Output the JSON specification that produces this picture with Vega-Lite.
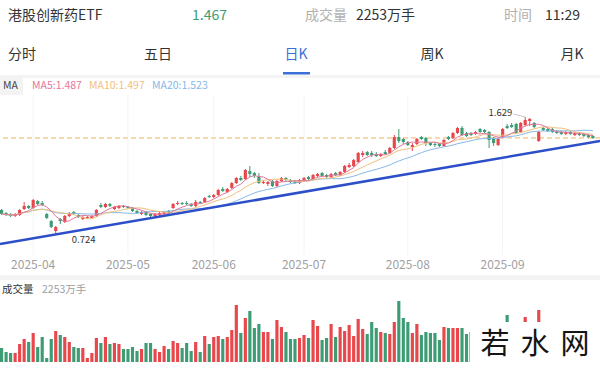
{
"$schema": "https://vega.github.io/schema/vega-lite/v6.json",
"width": 600, "height": 368,
"autosize": "none",
"padding": 0,
"background": "#ffffff",
"config": {"view": {"stroke": null}, "font": "Noto Sans CJK SC"},
"datasets": {"k": [
{"d":"2025-03-21","o":0.910,"h":0.917,"l":0.871,"c":0.879,"v":2100},
{"d":"2025-03-24","o":0.886,"h":0.894,"l":0.863,"c":0.871,"v":1500},
{"d":"2025-03-25","o":0.879,"h":0.886,"l":0.855,"c":0.863,"v":1350},
{"d":"2025-03-26","o":0.863,"h":0.886,"l":0.855,"c":0.879,"v":1350},
{"d":"2025-03-27","o":0.871,"h":0.917,"l":0.863,"c":0.910,"v":2700},
{"d":"2025-03-28","o":0.917,"h":0.972,"l":0.910,"c":0.941,"v":3450},
{"d":"2025-03-31","o":0.941,"h":0.948,"l":0.917,"c":0.925,"v":3000},
{"d":"2025-04-01","o":0.925,"h":0.995,"l":0.917,"c":0.987,"v":4350},
{"d":"2025-04-02","o":0.979,"h":0.987,"l":0.948,"c":0.956,"v":2250},
{"d":"2025-04-03","o":0.964,"h":0.979,"l":0.941,"c":0.948,"v":3750},
{"d":"2025-04-07","o":0.879,"h":0.886,"l":0.840,"c":0.848,"v":600},
{"d":"2025-04-08","o":0.824,"h":0.832,"l":0.770,"c":0.778,"v":3450},
{"d":"2025-04-09","o":0.747,"h":0.786,"l":0.724,"c":0.778,"v":4650},
{"d":"2025-04-10","o":0.840,"h":0.848,"l":0.801,"c":0.824,"v":4050},
{"d":"2025-04-11","o":0.817,"h":0.871,"l":0.809,"c":0.863,"v":3750},
{"d":"2025-04-14","o":0.863,"h":0.894,"l":0.855,"c":0.886,"v":3000},
{"d":"2025-04-15","o":0.894,"h":0.902,"l":0.871,"c":0.879,"v":2250},
{"d":"2025-04-16","o":0.871,"h":0.879,"l":0.848,"c":0.855,"v":2100},
{"d":"2025-04-17","o":0.840,"h":0.863,"l":0.832,"c":0.855,"v":2100},
{"d":"2025-04-18","o":0.848,"h":0.863,"l":0.840,"c":0.855,"v":600},
{"d":"2025-04-21","o":0.848,"h":0.871,"l":0.840,"c":0.863,"v":1350},
{"d":"2025-04-22","o":0.863,"h":0.917,"l":0.855,"c":0.910,"v":3600},
{"d":"2025-04-23","o":0.948,"h":0.964,"l":0.925,"c":0.933,"v":2850},
{"d":"2025-04-24","o":0.933,"h":0.964,"l":0.925,"c":0.956,"v":3750},
{"d":"2025-04-25","o":0.956,"h":0.964,"l":0.933,"c":0.941,"v":2700},
{"d":"2025-04-28","o":0.917,"h":0.941,"l":0.910,"c":0.933,"v":2850},
{"d":"2025-04-29","o":0.925,"h":0.948,"l":0.917,"c":0.941,"v":2700},
{"d":"2025-04-30","o":0.941,"h":0.948,"l":0.925,"c":0.933,"v":1950},
{"d":"2025-05-06","o":0.933,"h":0.941,"l":0.917,"c":0.925,"v":1950},
{"d":"2025-05-07","o":0.925,"h":0.933,"l":0.894,"c":0.902,"v":2250},
{"d":"2025-05-08","o":0.902,"h":0.910,"l":0.879,"c":0.886,"v":1650},
{"d":"2025-05-09","o":0.879,"h":0.902,"l":0.871,"c":0.894,"v":1950},
{"d":"2025-05-12","o":0.894,"h":0.902,"l":0.863,"c":0.871,"v":2850},
{"d":"2025-05-13","o":0.879,"h":0.886,"l":0.855,"c":0.863,"v":2850},
{"d":"2025-05-14","o":0.863,"h":0.886,"l":0.855,"c":0.879,"v":1950},
{"d":"2025-05-15","o":0.871,"h":0.894,"l":0.863,"c":0.886,"v":1500},
{"d":"2025-05-16","o":0.879,"h":0.902,"l":0.871,"c":0.894,"v":2400},
{"d":"2025-05-19","o":0.902,"h":0.910,"l":0.879,"c":0.886,"v":1950},
{"d":"2025-05-20","o":0.925,"h":0.964,"l":0.917,"c":0.956,"v":3150},
{"d":"2025-05-21","o":0.956,"h":0.979,"l":0.948,"c":0.964,"v":2850},
{"d":"2025-05-22","o":0.964,"h":0.972,"l":0.948,"c":0.956,"v":2100},
{"d":"2025-05-23","o":0.964,"h":0.979,"l":0.948,"c":0.956,"v":2850},
{"d":"2025-05-26","o":0.956,"h":0.964,"l":0.933,"c":0.941,"v":1650},
{"d":"2025-05-27","o":0.941,"h":0.987,"l":0.933,"c":0.972,"v":3000},
{"d":"2025-05-28","o":0.972,"h":0.979,"l":0.956,"c":0.964,"v":1500},
{"d":"2025-05-29","o":0.972,"h":1.010,"l":0.964,"c":1.002,"v":3900},
{"d":"2025-05-30","o":1.018,"h":1.026,"l":1.002,"c":1.010,"v":2700},
{"d":"2025-06-03","o":1.010,"h":1.033,"l":1.002,"c":1.026,"v":3750},
{"d":"2025-06-04","o":1.026,"h":1.072,"l":1.018,"c":1.064,"v":3900},
{"d":"2025-06-05","o":1.072,"h":1.088,"l":1.049,"c":1.057,"v":3450},
{"d":"2025-06-06","o":1.049,"h":1.080,"l":1.041,"c":1.072,"v":3750},
{"d":"2025-06-09","o":1.080,"h":1.126,"l":1.072,"c":1.118,"v":4800},
{"d":"2025-06-10","o":1.118,"h":1.165,"l":1.111,"c":1.157,"v":8550},
{"d":"2025-06-11","o":1.157,"h":1.173,"l":1.134,"c":1.142,"v":4350},
{"d":"2025-06-12","o":1.149,"h":1.227,"l":1.142,"c":1.219,"v":6600},
{"d":"2025-06-13","o":1.211,"h":1.250,"l":1.165,"c":1.188,"v":7650},
{"d":"2025-06-16","o":1.196,"h":1.204,"l":1.157,"c":1.173,"v":5100},
{"d":"2025-06-17","o":1.173,"h":1.196,"l":1.111,"c":1.118,"v":5700},
{"d":"2025-06-18","o":1.118,"h":1.142,"l":1.111,"c":1.126,"v":4500},
{"d":"2025-06-19","o":1.111,"h":1.134,"l":1.095,"c":1.126,"v":4500},
{"d":"2025-06-20","o":1.134,"h":1.142,"l":1.088,"c":1.095,"v":3450},
{"d":"2025-06-23","o":1.095,"h":1.142,"l":1.088,"c":1.134,"v":6300},
{"d":"2025-06-24","o":1.134,"h":1.165,"l":1.126,"c":1.157,"v":5250},
{"d":"2025-06-25","o":1.157,"h":1.165,"l":1.134,"c":1.142,"v":4500},
{"d":"2025-06-26","o":1.142,"h":1.149,"l":1.118,"c":1.126,"v":3450},
{"d":"2025-06-27","o":1.134,"h":1.142,"l":1.111,"c":1.118,"v":3450},
{"d":"2025-06-30","o":1.118,"h":1.149,"l":1.111,"c":1.142,"v":3600},
{"d":"2025-07-01","o":1.142,"h":1.165,"l":1.134,"c":1.157,"v":4050},
{"d":"2025-07-02","o":1.165,"h":1.173,"l":1.142,"c":1.149,"v":3600},
{"d":"2025-07-03","o":1.149,"h":1.188,"l":1.142,"c":1.180,"v":6300},
{"d":"2025-07-04","o":1.173,"h":1.196,"l":1.165,"c":1.188,"v":5400},
{"d":"2025-07-07","o":1.196,"h":1.204,"l":1.165,"c":1.173,"v":3300},
{"d":"2025-07-08","o":1.180,"h":1.188,"l":1.157,"c":1.165,"v":3600},
{"d":"2025-07-09","o":1.165,"h":1.196,"l":1.157,"c":1.188,"v":5700},
{"d":"2025-07-10","o":1.196,"h":1.204,"l":1.173,"c":1.180,"v":3750},
{"d":"2025-07-11","o":1.180,"h":1.211,"l":1.173,"c":1.204,"v":5250},
{"d":"2025-07-14","o":1.204,"h":1.258,"l":1.196,"c":1.250,"v":4650},
{"d":"2025-07-15","o":1.242,"h":1.273,"l":1.234,"c":1.258,"v":5550},
{"d":"2025-07-16","o":1.250,"h":1.304,"l":1.242,"c":1.296,"v":3900},
{"d":"2025-07-17","o":1.281,"h":1.358,"l":1.273,"c":1.351,"v":6450},
{"d":"2025-07-18","o":1.335,"h":1.366,"l":1.320,"c":1.351,"v":4950},
{"d":"2025-07-21","o":1.358,"h":1.366,"l":1.327,"c":1.335,"v":4200},
{"d":"2025-07-22","o":1.351,"h":1.366,"l":1.320,"c":1.335,"v":6000},
{"d":"2025-07-23","o":1.343,"h":1.358,"l":1.320,"c":1.327,"v":5100},
{"d":"2025-07-24","o":1.327,"h":1.351,"l":1.320,"c":1.343,"v":4500},
{"d":"2025-07-25","o":1.358,"h":1.374,"l":1.335,"c":1.343,"v":4350},
{"d":"2025-07-28","o":1.351,"h":1.397,"l":1.343,"c":1.389,"v":4200},
{"d":"2025-07-29","o":1.389,"h":1.490,"l":1.381,"c":1.474,"v":6000},
{"d":"2025-07-30","o":1.474,"h":1.536,"l":1.428,"c":1.443,"v":9150},
{"d":"2025-07-31","o":1.459,"h":1.467,"l":1.420,"c":1.436,"v":6600},
{"d":"2025-08-01","o":1.436,"h":1.443,"l":1.405,"c":1.412,"v":6000},
{"d":"2025-08-04","o":1.397,"h":1.428,"l":1.366,"c":1.412,"v":4350},
{"d":"2025-08-05","o":1.420,"h":1.467,"l":1.412,"c":1.459,"v":5700},
{"d":"2025-08-06","o":1.474,"h":1.482,"l":1.451,"c":1.459,"v":4050},
{"d":"2025-08-07","o":1.467,"h":1.474,"l":1.405,"c":1.428,"v":4500},
{"d":"2025-08-08","o":1.428,"h":1.436,"l":1.405,"c":1.412,"v":4350},
{"d":"2025-08-11","o":1.420,"h":1.428,"l":1.397,"c":1.412,"v":4350},
{"d":"2025-08-12","o":1.420,"h":1.428,"l":1.397,"c":1.405,"v":3300},
{"d":"2025-08-13","o":1.405,"h":1.459,"l":1.397,"c":1.451,"v":5250},
{"d":"2025-08-14","o":1.474,"h":1.482,"l":1.451,"c":1.459,"v":5100},
{"d":"2025-08-15","o":1.467,"h":1.513,"l":1.459,"c":1.505,"v":5100},
{"d":"2025-08-18","o":1.505,"h":1.552,"l":1.498,"c":1.544,"v":5100},
{"d":"2025-08-19","o":1.544,"h":1.559,"l":1.482,"c":1.490,"v":5100},
{"d":"2025-08-20","o":1.505,"h":1.513,"l":1.474,"c":1.482,"v":4200},
{"d":"2025-08-21","o":1.505,"h":1.513,"l":1.482,"c":1.490,"v":4500},
{"d":"2025-08-22","o":1.498,"h":1.521,"l":1.490,"c":1.513,"v":4200},
{"d":"2025-08-25","o":1.536,"h":1.544,"l":1.505,"c":1.513,"v":4950},
{"d":"2025-08-26","o":1.528,"h":1.536,"l":1.505,"c":1.513,"v":3750},
{"d":"2025-08-27","o":1.513,"h":1.521,"l":1.389,"c":1.451,"v":5700},
{"d":"2025-08-28","o":1.467,"h":1.474,"l":1.405,"c":1.428,"v":5400},
{"d":"2025-08-29","o":1.412,"h":1.474,"l":1.405,"c":1.459,"v":5250},
{"d":"2025-09-01","o":1.474,"h":1.544,"l":1.467,"c":1.536,"v":5550},
{"d":"2025-09-02","o":1.559,"h":1.575,"l":1.536,"c":1.544,"v":7050},
{"d":"2025-09-03","o":1.567,"h":1.583,"l":1.544,"c":1.552,"v":4500},
{"d":"2025-09-04","o":1.575,"h":1.583,"l":1.498,"c":1.505,"v":5250},
{"d":"2025-09-05","o":1.513,"h":1.590,"l":1.505,"c":1.583,"v":5700},
{"d":"2025-09-08","o":1.567,"h":1.629,"l":1.559,"c":1.606,"v":6750},
{"d":"2025-09-09","o":1.598,"h":1.621,"l":1.559,"c":1.614,"v":4800},
{"d":"2025-09-10","o":1.583,"h":1.590,"l":1.544,"c":1.552,"v":4500},
{"d":"2025-09-11","o":1.443,"h":1.521,"l":1.436,"c":1.513,"v":7800},
{"d":"2025-09-12","o":1.544,"h":1.552,"l":1.521,"c":1.528,"v":4500},
{"d":"2025-09-15","o":1.536,"h":1.544,"l":1.513,"c":1.521,"v":4200},
{"d":"2025-09-16","o":1.536,"h":1.544,"l":1.505,"c":1.513,"v":3750},
{"d":"2025-09-17","o":1.521,"h":1.528,"l":1.498,"c":1.505,"v":4050},
{"d":"2025-09-18","o":1.513,"h":1.521,"l":1.490,"c":1.498,"v":3300},
{"d":"2025-09-19","o":1.498,"h":1.521,"l":1.490,"c":1.513,"v":3750},
{"d":"2025-09-22","o":1.513,"h":1.521,"l":1.490,"c":1.498,"v":3000},
{"d":"2025-09-23","o":1.490,"h":1.513,"l":1.482,"c":1.505,"v":3300},
{"d":"2025-09-24","o":1.505,"h":1.513,"l":1.482,"c":1.490,"v":2700},
{"d":"2025-09-25","o":1.498,"h":1.505,"l":1.474,"c":1.482,"v":3000},
{"d":"2025-09-26","o":1.490,"h":1.498,"l":1.467,"c":1.474,"v":3300},
{"d":"2025-09-29","o":1.482,"h":1.490,"l":1.459,"c":1.467,"v":2253}
]},
"resolve": {"scale": {"y": "independent"}},
"layer": [
{"data": {"values": [{}]}, "mark": {"type": "rect", "x": 0, "x2": 600, "y": 75, "y2": 78, "color": "#f3f3f3"}, "encoding": {}},
{"data": {"values": [{}]}, "mark": {"type": "rect", "x": 0, "x2": 600, "y": 275, "y2": 280, "color": "#f3f3f3"}, "encoding": {}},
{"data": {"values": [{}]}, "mark": {"type": "rect", "x": 0, "x2": 23, "y": 78, "y2": 95, "color": "#f3f3f3"}, "encoding": {}},
{"data": {"values": [{}]}, "mark": {"type": "rect", "x": 283, "x2": 310, "y": 72, "y2": 74.5, "color": "#3b6fd8"}, "encoding": {}},
{"data": {"values": [{}]}, "mark": {"type": "text", "text": "港股创新药ETF", "x": 8, "y": 16, "align": "left", "baseline": "middle", "fontSize": 14, "color": "#333333"}},
{"data": {"values": [{}]}, "mark": {"type": "text", "text": "1.467", "x": 192, "y": 16, "align": "left", "baseline": "middle", "fontSize": 14, "color": "#3d9c74"}},
{"data": {"values": [{}]}, "mark": {"type": "text", "text": "成交量", "x": 305, "y": 16, "align": "left", "baseline": "middle", "fontSize": 14, "color": "#b0b0b0"}},
{"data": {"values": [{}]}, "mark": {"type": "text", "text": "2253万手", "x": 356, "y": 16, "align": "left", "baseline": "middle", "fontSize": 14, "color": "#333333"}},
{"data": {"values": [{}]}, "mark": {"type": "text", "text": "时间", "x": 504, "y": 16, "align": "left", "baseline": "middle", "fontSize": 14, "color": "#b0b0b0"}},
{"data": {"values": [{}]}, "mark": {"type": "text", "text": "11:29", "x": 545, "y": 16, "align": "left", "baseline": "middle", "fontSize": 14, "color": "#333333"}},
{"data": {"values": [{}]}, "mark": {"type": "text", "text": "分时", "x": 22, "y": 55, "align": "center", "baseline": "middle", "fontSize": 14, "color": "#333333"}},
{"data": {"values": [{}]}, "mark": {"type": "text", "text": "五日", "x": 158, "y": 55, "align": "center", "baseline": "middle", "fontSize": 14, "color": "#333333"}},
{"data": {"values": [{}]}, "mark": {"type": "text", "text": "日K", "x": 296, "y": 55, "align": "center", "baseline": "middle", "fontSize": 14, "color": "#3b6fd8"}},
{"data": {"values": [{}]}, "mark": {"type": "text", "text": "周K", "x": 432, "y": 55, "align": "center", "baseline": "middle", "fontSize": 14, "color": "#333333"}},
{"data": {"values": [{}]}, "mark": {"type": "text", "text": "月K", "x": 572, "y": 55, "align": "center", "baseline": "middle", "fontSize": 14, "color": "#333333"}},
{"data": {"values": [{}]}, "mark": {"type": "text", "text": "MA", "x": 3, "y": 86, "align": "left", "baseline": "middle", "fontSize": 10.5, "color": "#444444"}},
{"data": {"values": [{}]}, "mark": {"type": "text", "text": "MA5:1.487", "x": 32, "y": 86, "align": "left", "baseline": "middle", "fontSize": 10.5, "color": "#e3779b"}},
{"data": {"values": [{}]}, "mark": {"type": "text", "text": "MA10:1.497", "x": 89, "y": 86, "align": "left", "baseline": "middle", "fontSize": 10.5, "color": "#f0c07e"}},
{"data": {"values": [{}]}, "mark": {"type": "text", "text": "MA20:1.523", "x": 152, "y": 86, "align": "left", "baseline": "middle", "fontSize": 10.5, "color": "#86b8e8"}},
{"data": {"values": [{}]}, "mark": {"type": "text", "text": "成交量", "x": 2, "y": 290, "align": "left", "baseline": "middle", "fontSize": 10.5, "color": "#333333"}},
{"data": {"values": [{}]}, "mark": {"type": "text", "text": "2253万手", "x": 42, "y": 290, "align": "left", "baseline": "middle", "fontSize": 10.5, "color": "#a0a0a0"}},
{"data": {"name": "k"}, "layer": [
  {"data": {"values": [{"m": "2025-04-01"}, {"m": "2025-05-06"}, {"m": "2025-06-03"}, {"m": "2025-07-01"}, {"m": "2025-08-01"}, {"m": "2025-09-01"}]},
   "mark": {"type": "rule", "color": "#f4f4f4", "strokeWidth": 1},
   "encoding": {"x": {"field": "m", "type": "ordinal", "scale": {"paddingInner": 0.3, "paddingOuter": 0.61, "align": 0}, "axis": {"labelAngle": 0, "labelAlign": "center"}}, "y": {"datum": 1.799, "type": "quantitative", "scale": {"domain": [-0.3125, 2.534], "zero": false, "nice": false}, "axis": null}, "y2": {"datum": 0.562}}},
  {"data": {"values": [{}]}, "mark": {"type": "rule", "color": "#f2b45c", "strokeDash": [5, 3], "strokeWidth": 1}, "encoding": {"y": {"datum": 1.467, "type": "quantitative", "scale": {"domain": [-0.3125, 2.534], "zero": false, "nice": false}, "axis": null}}},
  {"mark": {"type": "rule", "strokeWidth": 1}, "encoding": {
    "x": {"field": "d", "type": "ordinal", "scale": {"paddingInner": 0.3, "paddingOuter": 0.61, "align": 0}, "axis": {"labelAngle": 0, "labelAlign": "center"}},
    "y": {"field": "l", "type": "quantitative", "scale": {"domain": [-0.3125, 2.534], "zero": false, "nice": false}, "axis": null},
    "y2": {"field": "h"},
    "color": {"condition": {"test": "datum.c >= datum.o", "value": "#e8474b"}, "value": "#3d9c74"}}},
  {"mark": {"type": "bar"}, "encoding": {
    "x": {"field": "d", "type": "ordinal", "scale": {"paddingInner": 0.3, "paddingOuter": 0.61, "align": 0},
      "axis": {"values": ["2025-04-01","2025-05-06","2025-06-03","2025-07-01","2025-08-01","2025-09-01"], "labelExpr": "slice(datum.value, 0, 7)", "orient": "bottom", "offset": -110, "domain": false, "ticks": false, "grid": false, "labelColor": "#a0a0a0", "labelFontSize": 12, "labelAngle": 0, "labelAlign": "center", "labelBaseline": "top", "labelPadding": 1, "labelOverlap": false, "labelBound": false, "labelFlush": false, "title": null}},
    "y": {"field": "o", "type": "quantitative", "scale": {"domain": [-0.3125, 2.534], "zero": false, "nice": false}, "axis": null},
    "y2": {"field": "c"},
    "color": {"condition": {"test": "datum.c >= datum.o", "value": "#e8474b"}, "value": "#3d9c74"}}},
  {"transform": [{"window": [{"op": "mean", "field": "c", "as": "m"}], "frame": [-19, 0], "sort": [{"field": "d"}]}],
   "mark": {"type": "line", "color": "#86b8e8", "strokeWidth": 1},
   "encoding": {"x": {"field": "d", "type": "ordinal", "scale": {"paddingInner": 0.3, "paddingOuter": 0.61, "align": 0}, "axis": {"labelAngle": 0, "labelAlign": "center"}}, "y": {"field": "m", "type": "quantitative", "scale": {"domain": [-0.3125, 2.534], "zero": false, "nice": false}, "axis": null}}},
  {"transform": [{"window": [{"op": "mean", "field": "c", "as": "m"}], "frame": [-9, 0], "sort": [{"field": "d"}]}],
   "mark": {"type": "line", "color": "#f0c07e", "strokeWidth": 1},
   "encoding": {"x": {"field": "d", "type": "ordinal", "scale": {"paddingInner": 0.3, "paddingOuter": 0.61, "align": 0}, "axis": {"labelAngle": 0, "labelAlign": "center"}}, "y": {"field": "m", "type": "quantitative", "scale": {"domain": [-0.3125, 2.534], "zero": false, "nice": false}, "axis": null}}},
  {"transform": [{"window": [{"op": "mean", "field": "c", "as": "m"}], "frame": [-4, 0], "sort": [{"field": "d"}]}],
   "mark": {"type": "line", "color": "#e3779b", "strokeWidth": 1},
   "encoding": {"x": {"field": "d", "type": "ordinal", "scale": {"paddingInner": 0.3, "paddingOuter": 0.61, "align": 0}, "axis": {"labelAngle": 0, "labelAlign": "center"}}, "y": {"field": "m", "type": "quantitative", "scale": {"domain": [-0.3125, 2.534], "zero": false, "nice": false}, "axis": null}}},
  {"data": {"values": [{}]}, "mark": {"type": "rule", "color": "#2c4fc9", "strokeWidth": 2.5, "xOffset": -1.58, "x2Offset": 7.1},
   "encoding": {"x": {"datum": "2025-03-21", "type": "ordinal", "axis": {"labelAngle": 0, "labelAlign": "center"}}, "x2": {"datum": "2025-09-29"}, "y": {"datum": 0.647, "type": "quantitative", "scale": {"domain": [-0.3125, 2.534], "zero": false, "nice": false}, "axis": null}, "y2": {"datum": 1.443}}},
  {"data": {"values": [{}]}, "mark": {"type": "rule", "color": "#b0b0b0", "strokeWidth": 0.7, "xOffset": -12, "yOffset": -3},
   "encoding": {"x": {"datum": "2025-09-08", "type": "ordinal", "axis": {"labelAngle": 0, "labelAlign": "center"}}, "x2": {"datum": "2025-09-08"}, "y": {"datum": 1.629, "type": "quantitative", "scale": {"domain": [-0.3125, 2.534], "zero": false, "nice": false}, "axis": null}, "y2": {"datum": 1.629}}},
  {"data": {"values": [{}]}, "mark": {"type": "text", "text": "1.629", "align": "right", "baseline": "middle", "dx": -13, "dy": -3.5, "fontSize": 9.5, "color": "#333333"},
   "encoding": {"x": {"datum": "2025-09-08", "type": "ordinal", "axis": {"labelAngle": 0, "labelAlign": "center"}}, "y": {"datum": 1.629, "type": "quantitative", "scale": {"domain": [-0.3125, 2.534], "zero": false, "nice": false}, "axis": null}}},
  {"data": {"values": [{}]}, "mark": {"type": "text", "text": "0.724", "align": "left", "baseline": "middle", "dx": 16, "dy": 6, "fontSize": 9.5, "color": "#333333"},
   "encoding": {"x": {"datum": "2025-04-09", "type": "ordinal", "axis": {"labelAngle": 0, "labelAlign": "center"}}, "y": {"datum": 0.724, "type": "quantitative", "scale": {"domain": [-0.3125, 2.534], "zero": false, "nice": false}, "axis": null}}}
]},
{"data": {"name": "k"}, "layer": [
  {"mark": {"type": "bar"}, "encoding": {
    "x": {"field": "d", "type": "ordinal", "scale": {"paddingInner": 0.3, "paddingOuter": 0.61, "align": 0}, "axis": {"labelAngle": 0, "labelAlign": "center"}},
    "y": {"field": "v", "type": "quantitative", "scale": {"domain": [-900, 54300], "zero": false, "nice": false}, "axis": null},
    "y2": {"datum": 0},
    "color": {"condition": {"test": "datum.c >= datum.o", "value": "#e8474b"}, "value": "#3d9c74"}}},
  {"data": {"values": [{}]}, "mark": {"type": "rect", "color": "#ffffff", "xOffset": -1, "x2Offset": 9},
   "encoding": {"x": {"datum": "2025-08-21", "type": "ordinal", "axis": {"labelAngle": 0, "labelAlign": "center"}}, "x2": {"datum": "2025-09-29"}, "y": {"datum": 6000, "type": "quantitative", "scale": {"domain": [-900, 54300], "zero": false, "nice": false}, "axis": null}, "y2": {"datum": -900}}},
  {"data": {"values": [{}]}, "mark": {"type": "text", "text": "若", "x": 495, "y": 345, "align": "center", "baseline": "middle", "fontSize": 29, "color": "#151515"}},
  {"data": {"values": [{}]}, "mark": {"type": "text", "text": "水", "x": 535, "y": 345, "align": "center", "baseline": "middle", "fontSize": 29, "color": "#151515"}},
  {"data": {"values": [{}]}, "mark": {"type": "text", "text": "网", "x": 575, "y": 345, "align": "center", "baseline": "middle", "fontSize": 29, "color": "#151515"}}
]}
]
}
